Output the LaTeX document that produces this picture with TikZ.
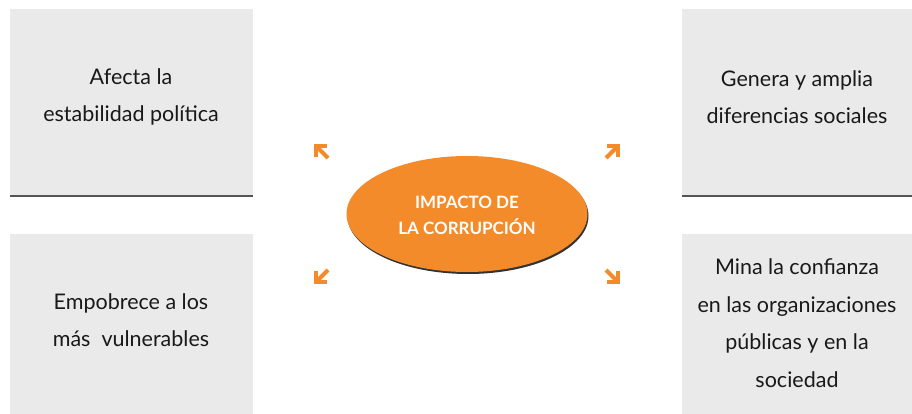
\documentclass[tikz,border=0pt]{standalone}
\usepackage{fontspec}
\setmainfont{Lato}
\usetikzlibrary{arrows.meta,shapes.geometric}
\definecolor{boxgray}{RGB}{234,234,235}
\definecolor{rulegray}{RGB}{85,85,85}
\definecolor{impacto}{RGB}{243,139,42}
\tikzset{
  panel/.style={fill=boxgray,draw=none},
  paneltext/.style={align=center,font=\fontsize{21.5}{37.5}\selectfont,text=black!90},
  burst/.style={impacto,line width=4pt,-{Straight Barb[angle=90:11pt]}}
}
\begin{document}
\begin{tikzpicture}[x=1pt,y=-1pt]
      \useasboundingbox (0,0) rectangle (912,414);
      % paneles grises
      \fill[panel] (10,9) rectangle (253,196);
      \fill[panel] (682,9) rectangle (912,196);
      \fill[panel] (10,234) rectangle (253,414);
      \fill[panel] (682,234) rectangle (912,414);
      \draw[rulegray,line width=1.2pt] (10,196) -- (253,196);
      \draw[rulegray,line width=1.2pt] (682,196) -- (912,196);
      % elipse central
      \fill[black!80] (468,216) ellipse [x radius=120.5,y radius=58];
      \draw[font=\fontsize{17}{26}\selectfont\bfseries,align=center]
        (467,214) node (centro)[ellipse,fill=impacto,minimum width=241,minimum height=116,inner sep=0]{}
        (467,215) node[text=white]{IMPACTO DE\\LA CORRUPCIÓN};
      \draw[paneltext]
        (131,97) node (politica){Afecta la\\estabilidad política}
        (797,97) node (sociales){Genera y amplia\\diferencias sociales}
        (131,320) node (pobres){Empobrece a los\\más\ \ vulnerables}
        (797,323) node (confianza){Mina la confianza\\en las organizaciones\\públicas y en la\\sociedad};
      % flechas
      \coordinate (a1) at (328,158);
      \coordinate (b1) at (314,144);
      \coordinate (a2) at (606,158);
      \coordinate (b2) at (620,144);
      \coordinate (a3) at (328,270);
      \coordinate (b3) at (314,284);
      \coordinate (a4) at (606,270);
      \coordinate (b4) at (620,284);
      \begin{scope}[burst]
        \draw (a1) to (b1);
        \draw (a2) to (b2);
        \draw (a3) to (b3);
        \draw (a4) to (b4);
      \end{scope}
    \end{tikzpicture}
\end{document}
